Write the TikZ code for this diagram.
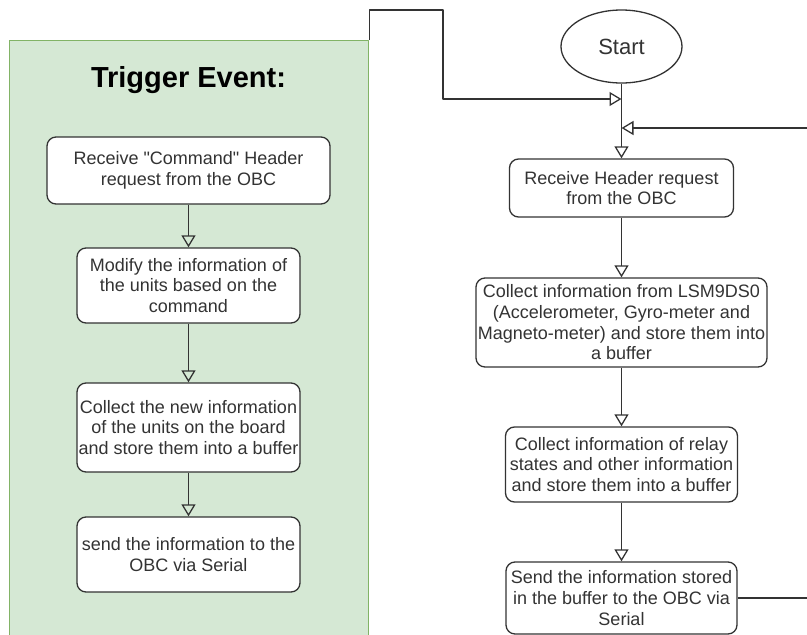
\documentclass[tikz,border=0pt]{standalone}
\usepackage{fontspec}
\setmainfont{Liberation Sans}
\usetikzlibrary{arrows.meta,shapes.geometric}
\definecolor{panelfill}{HTML}{D5E8D4}
\definecolor{panelline}{HTML}{82B366}
\definecolor{ink}{HTML}{333333}
\begin{document}
\begin{tikzpicture}[x=1pt,y=-1pt,line join=round,
  >={Triangle[open,length=12pt,width=14pt]},
  every node/.style={font=\fontsize{18}{20.7}\selectfont,text=ink,align=center,inner sep=0pt},
  stepbox/.style={draw=ink,line width=1.3pt,fill=white,rounded corners=9pt},
  link/.style={draw=ink,line width=1.3pt,->}]
  \useasboundingbox (0,0) rectangle (807,635);
  \clip (0,0) rectangle (807,635);
  % trigger panel on the left
  \node[fill=panelfill,draw=panelline,line width=1.3pt,minimum width=359pt,minimum height=620pt,anchor=north west] (panel) at (9,40) {};
  \node[text=black,font=\bfseries\fontsize{29}{32}\selectfont] (title) at (188.5,80) {Trigger Event:};
  \node[stepbox,minimum width=283pt,minimum height=67pt] (l1) at (188.5,170.5) {Receive \textquotedbl Command\textquotedbl{} Header\\request from the OBC};
  \node[stepbox,minimum width=223pt,minimum height=75pt] (l2) at (188.5,285.5) {Modify the information of\\the units based on the\\command};
  \node[stepbox,minimum width=223pt,minimum height=89pt] (l3) at (188.5,427.5) {Collect the new information\\of the units on the board\\and store them into a buffer};
  \node[stepbox,minimum width=223pt,minimum height=75pt] (l4) at (188.5,554.5) {send the information to the\\OBC via Serial};
  \draw[link] (l1) -- (l2);
  \draw[link] (l2) -- (l3);
  \draw[link] (l3) -- (l4);
  % main loop on the right
  \node[ellipse,draw=ink,line width=1.3pt,fill=white,minimum width=121pt,minimum height=73pt,font=\fontsize{22}{24}\selectfont] (start) at (621.5,46.5) {Start};
  \node[stepbox,minimum width=224pt,minimum height=58pt] (r1) at (621.5,188) {Receive Header request\\from the OBC};
  \node[stepbox,minimum width=291pt,minimum height=89pt] (r2) at (621.5,322.5) {Collect information from LSM9DS0\\(Accelerometer, Gyro-meter and\\Magneto-meter) and store them into\\a buffer};
  \node[stepbox,minimum width=232pt,minimum height=75pt] (r3) at (621.5,464.5) {Collect information of relay\\states and other information\\and store them into a buffer};
  \node[stepbox,minimum width=231pt,minimum height=72pt] (r4) at (621.5,598) {Send the information stored\\in the buffer to the OBC via\\Serial};
  \draw[link] (start) -- (r1);
  \draw[link] (r1) -- (r2);
  \draw[link] (r2) -- (r3);
  \draw[link] (r3) -- (r4);
  % joins into the main line
  \coordinate (join1) at (621.5,99);
  \coordinate (join2) at (621.5,128);
  \draw[link] (panel.north east) |- (443,10) -- (443,99) -- (join1);
  \draw[link] (r4.east) -- (830,598) |- (join2);
\end{tikzpicture}
\end{document}
